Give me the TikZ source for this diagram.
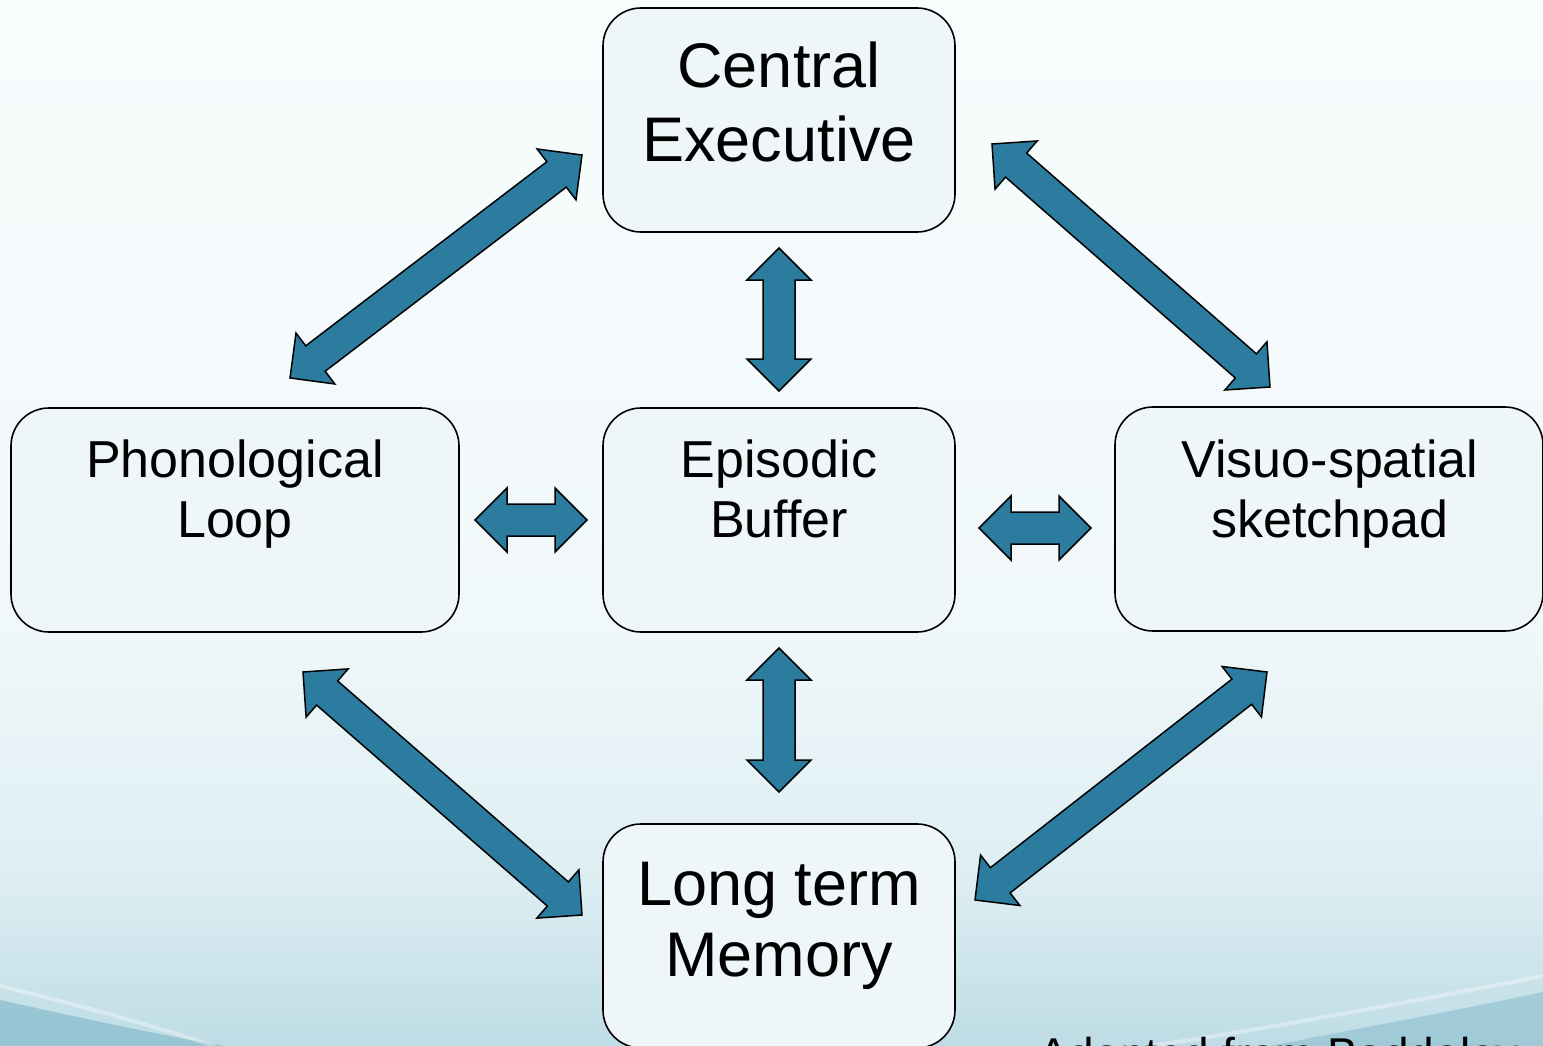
\documentclass[tikz,border=0pt]{standalone}
\usepackage{fontspec}
\setmainfont{Liberation Sans}
\usetikzlibrary{calc}

\definecolor{arrowblue}{HTML}{2C7CA0}
\definecolor{boxfill}{HTML}{EEF6F9}
\definecolor{bgtop}{HTML}{F8FCFD}
\definecolor{bgmid}{HTML}{F1F8FA}
\definecolor{bglow}{HTML}{DDEEF3}
\definecolor{bgbot}{HTML}{BEDCE5}
\definecolor{swoosh}{HTML}{86BBCC}

\tikzset{
  stagebox/.style={draw=black, line width=1.6pt, fill=boxfill,
    rounded corners=38pt, inner sep=0pt},
  bigtext/.style={font=\fontsize{63}{74}\selectfont, anchor=base, inner sep=0pt},
  midtext/.style={font=\fontsize{52}{60}\selectfont, anchor=base, inner sep=0pt},
  blockarrow/.style={draw=black, line width=1.5pt, fill=arrowblue, line join=miter},
}

% double-headed block arrow between two named tips
\newcommand\dblarrow[2]{%
  \path let \p1=(#1), \p2=(#2),
    \n1={atan2(\y2-\y1,\x2-\x1)}, \n2={veclen(\x2-\x1,\y2-\y1)} in
    \pgfextra{\xdef\arrx{\x1}\xdef\arry{\y1}\xdef\arrang{\n1}\xdef\arrlen{\n2}};
  \begin{scope}[shift={(\arrx,\arry)}, rotate=\arrang]
    \draw[blockarrow] (0pt,0pt) -- (32pt,32pt) -- (32pt,16pt)
      -- ({\arrlen-32pt},16pt) -- ({\arrlen-32pt},32pt) -- (\arrlen,0pt)
      -- ({\arrlen-32pt},-32pt) -- ({\arrlen-32pt},-16pt)
      -- (32pt,-16pt) -- (32pt,-32pt) -- cycle;
  \end{scope}
}

\begin{document}
\begin{tikzpicture}[x=1pt, y=-1pt]
  \useasboundingbox (0,0) rectangle (1543,1046);
  \clip (0,0) rectangle (1543,1046);

  % background
  \shade[top color=bgtop, bottom color=bgmid] (0,0) rectangle (1543,620);
  \shade[top color=bgmid, bottom color=bglow] (0,619) rectangle (1543,880);
  \shade[top color=bglow, bottom color=bgbot] (0,879) rectangle (1543,1046);
  \fill[swoosh, opacity=0.7] (0,1000) .. controls (90,1020) and (160,1035) .. (225,1046)
    -- (0,1046) -- cycle;
  \draw[white, opacity=0.35, line width=4pt] (0,986) .. controls (80,1005) and (150,1025) .. (215,1046);
  \fill[swoosh, opacity=0.55] (1543,992) .. controls (1450,1012) and (1350,1030) .. (1270,1046)
    -- (1543,1046) -- cycle;
  \draw[white, opacity=0.35, line width=4pt] (1543,976) .. controls (1420,1000) and (1260,1030) .. (1150,1046);

  % components
  \node[stagebox, minimum width=352pt, minimum height=224pt] (ce) at (779,120) {};
  \node[stagebox, minimum width=448pt, minimum height=224pt] (pl) at (235,520) {};
  \node[stagebox, minimum width=352pt, minimum height=224pt] (eb) at (779,520) {};
  \node[stagebox, minimum width=428pt, minimum height=224pt] (vs) at (1329,519) {};
  \node[stagebox, minimum width=352pt, minimum height=224pt] (ltm) at (779,936) {};

  \node[bigtext] (ce1) at (779,88) {Central};
  \node[bigtext] (ce2) at (779,162) {Executive};
  \node[midtext] (pl1) at (235,477) {Phonological};
  \node[midtext] (pl2) at (235,537) {Loop};
  \node[midtext] (eb1) at (779,477) {Episodic};
  \node[midtext] (eb2) at (779,537) {Buffer};
  \node[midtext] (vs1) at (1330,477) {Visuo-spatial};
  \node[midtext] (vs2) at (1330,537) {sketchpad};
  \node[bigtext] (ltm1) at (779,905) {Long term};
  \node[bigtext] (ltm2) at (779,976) {Memory};

  \node[font=\fontsize{46}{54}\selectfont, anchor=base west, inner sep=0pt]
    (src) at (1038,1070) {Adapted from Baddeley};

  % arrow tips
  \coordinate (ceebA) at (779,248);  \coordinate (ceebB) at (779,391);
  \coordinate (ebltA) at (779,648);  \coordinate (ebltB) at (779,792);
  \coordinate (plebA) at (475,520);  \coordinate (plebB) at (587,520);
  \coordinate (ebvsA) at (979,528);  \coordinate (ebvsB) at (1091,528);
  \coordinate (ceplA) at (582,155);  \coordinate (ceplB) at (290,378);
  \coordinate (cevsA) at (992,144);  \coordinate (cevsB) at (1270,387);
  \coordinate (plltA) at (303,672);  \coordinate (plltB) at (582,915);
  \coordinate (vsltA) at (1267,672); \coordinate (vsltB) at (975,900);

  \dblarrow{ceebA}{ceebB}
  \dblarrow{ebltA}{ebltB}
  \dblarrow{plebA}{plebB}
  \dblarrow{ebvsA}{ebvsB}
  \dblarrow{ceplA}{ceplB}
  \dblarrow{cevsA}{cevsB}
  \dblarrow{plltA}{plltB}
  \dblarrow{vsltA}{vsltB}
\end{tikzpicture}
\end{document}
